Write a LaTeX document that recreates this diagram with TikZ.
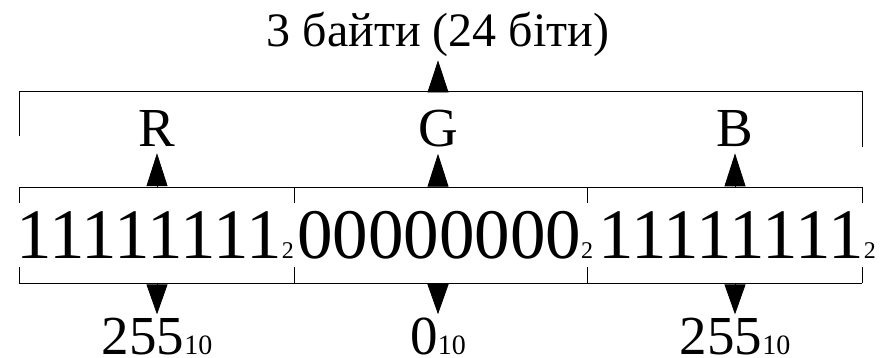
\documentclass[tikz,border=0pt]{standalone}
\usepackage{fontspec}
\setmainfont{Liberation Serif}
\usetikzlibrary{positioning,arrows.meta}
\newcommand\radix[2][24]{{\fontsize{#1}{#1}\selectfont#2}}

\begin{document}
\begin{tikzpicture}[
  x=1pt, y=-1pt,
  bits/.style={inner sep=0pt, anchor=base, font=\fontsize{71}{71}\selectfont},
  chan/.style={inner sep=6pt, anchor=base, font=\fontsize{55}{55}\selectfont},
  dec/.style={inner sep=3pt, anchor=base, font=\fontsize{55}{55}\selectfont},
  ttl/.style={inner sep=3pt, anchor=base, font=\fontsize{48}{48}\selectfont},
  tri/.style={-{Triangle[length=#1,width=21pt]}, line width=0.8pt},
  tri/.default=32pt,
  frame/.style={line width=0.8pt}
]
\useasboundingbox (0,0) rectangle (885,358);
% brackets
\draw[frame] (19,136) -- (19,91) -- (862,91) -- (862,147);
\draw[frame] (19,187) -- (862,187);
\draw[frame] (19,283) -- (862,283);
\draw[frame] (19,187) -- (19,203) (294,187) -- (294,203)
  (587,187) -- (587,203) (862,187) -- (862,203);
\draw[frame] (19,267) -- (19,283) (294,267) -- (294,283)
  (587,267) -- (587,283) (862,267) -- (862,283);
\coordinate (top) at (438,91);
\coordinate (rU) at (157,187);
\coordinate (gU) at (438,187);
\coordinate (bU) at (735,187);
\coordinate (rD) at (157,283);
\coordinate (gD) at (438,283);
\coordinate (bD) at (735,283);
% texts
\node[ttl] (title) at (438,47) {3 байти (24 біти)};
\node[chan] (r) at (157,147) {R};
\node[chan] (g) at (438,147) {G};
\node[chan] (b) at (735,147) {B};
\node[bits] (bits1) at (155,258) {11111111\radix{2}};
\node[bits] (bits2) at (445,258) {00000000\radix{2}};
\node[bits] (bits3) at (737,258) {11111111\radix{2}};
\node[dec] (d1) at (157,354) {255\radix[28]{10}};
\node[dec] (d2) at (438,354) {0\radix[28]{10}};
\node[dec] (d3) at (735,354) {255\radix[28]{10}};
% arrows
\draw[tri] (top) -- (top |- title.south);
\draw[tri=33pt] (rU) -- (r);
\draw[tri=33pt] (gU) -- (g);
\draw[tri=33pt] (bU) -- (b);
\draw[tri=30pt] (rD) -- (rD |- d1.north);
\draw[tri=30pt] (gD) -- (gD |- d2.north);
\draw[tri=30pt] (bD) -- (bD |- d3.north);
\end{tikzpicture}
\end{document}
